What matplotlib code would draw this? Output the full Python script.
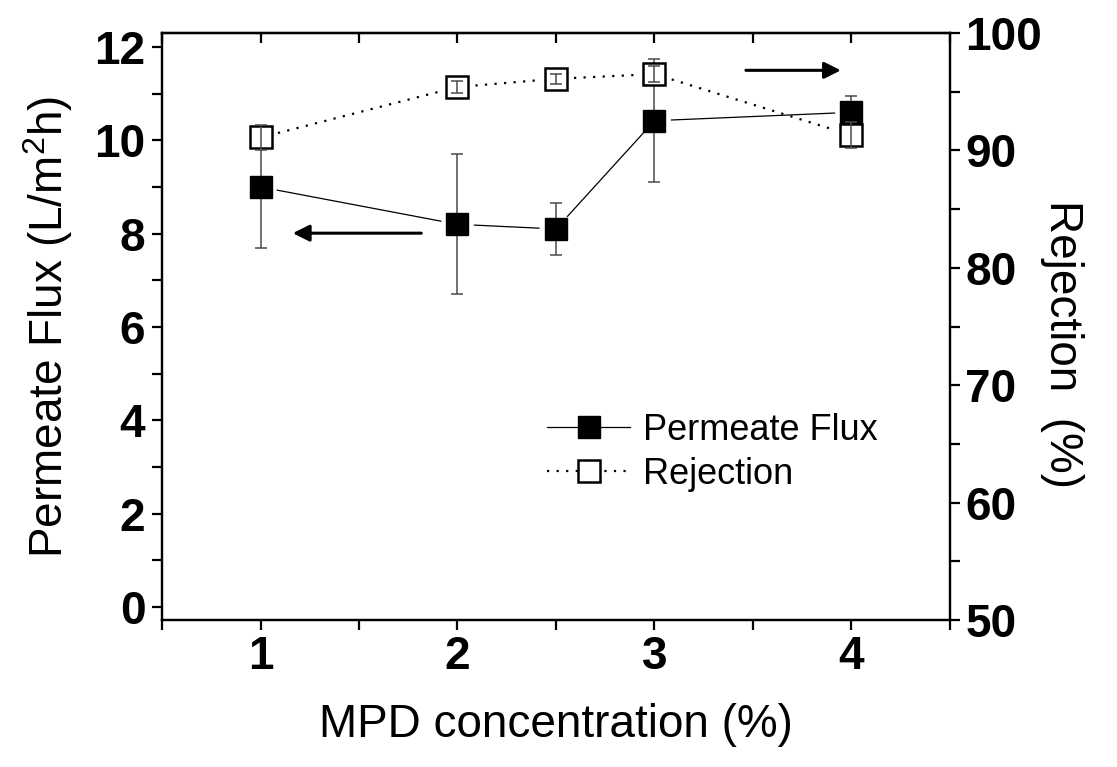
import numpy as np
import matplotlib
matplotlib.use("Agg")
import matplotlib.pyplot as plt
from matplotlib.lines import Line2D

plt.rcParams['font.family'] = ['Liberation Sans', 'DejaVu Sans']
plt.rcParams['mathtext.fontset'] = 'custom'
plt.rcParams['mathtext.rm'] = 'Liberation Sans'
plt.rcParams['mathtext.it'] = 'Liberation Sans:italic'

# data
mpd = [1, 2, 2.5, 3, 4]
flux = [9.0, 8.2, 8.1, 10.42, 10.6]
flux_err = [1.3, 1.5, 0.55, 1.32, 0.36]
rejection = [91.1, 95.4, 96.1, 96.5, 91.3]
rejection_err = [1.1, 0.5, 0.43, 0.67, 1.1]

fig = plt.figure(figsize=(11.17, 7.67), dpi=100)
ax = fig.add_axes([162 / 1117, 147 / 767, 788 / 1117, 587 / 767])
ax.set_xlim(0.5, 4.5)
ax.set_ylim(-0.28, 12.3)
ax2 = ax.twinx()
ax2.set_ylim(50, 100)


def gapped(axis, x, y, gap_px, **kw):
    # draw connecting segments that stop short of the markers (Origin style)
    pts = axis.transData.transform(np.column_stack([x, y]))
    inv = axis.transData.inverted()
    for p, q in zip(pts[:-1], pts[1:]):
        d = q - p
        u = d / np.hypot(*d)
        a, b = inv.transform([p + u * gap_px, q - u * gap_px])
        axis.plot([a[0], b[0]], [a[1], b[1]], **kw)


gapped(ax, mpd, flux, 17, color='black', lw=0.9, zorder=2)
ax.errorbar(mpd, flux, yerr=flux_err, fmt='none', ecolor='#4a4a4a',
            elinewidth=1.1, capsize=4.5, capthick=1.1, zorder=3)
ax.plot(mpd, flux, ls='none', marker='s', ms=16, mfc='black', mec='black', zorder=4)

gapped(ax2, mpd, rejection, 18, color='black', lw=1.6, ls=(0, (1, 3.3)), zorder=2)
ax2.plot(mpd, rejection, ls='none', marker='s', ms=16, mfc='white', mec='black',
         mew=1.8, zorder=3)
ax2.errorbar(mpd, rejection, yerr=rejection_err, fmt='none', ecolor='#4a4a4a',
             elinewidth=1.1, capsize=4.5, capthick=1.1, zorder=4)

# arrows pointing to each axis
ax.annotate('', xy=(1.15, 8.01), xytext=(1.83, 8.01),
            arrowprops=dict(arrowstyle='-|>', lw=2.2, color='black', mutation_scale=25))
ax.annotate('', xy=(3.96, 11.5), xytext=(3.45, 11.5),
            arrowprops=dict(arrowstyle='-|>', lw=2.2, color='black', mutation_scale=25))

# ticks
ax.set_xticks([1, 2, 3, 4])
ax.set_xticks([0.5, 1.5, 2.5, 3.5, 4.5], minor=True)
ax.set_yticks([0, 2, 4, 6, 8, 10, 12])
ax.set_yticks([1, 3, 5, 7, 9, 11], minor=True)
ax2.set_yticks([50, 60, 70, 80, 90, 100])
ax2.set_yticks([55, 65, 75, 85, 95], minor=True)

for a in (ax, ax2):
    a.tick_params(which='both', direction='out', length=7, width=1.6, labelsize=33)
    for s in a.spines.values():
        s.set_linewidth(1.6)
ax.tick_params(axis='x', pad=4)
ax.tick_params(axis='y', pad=5)
ax2.tick_params(axis='y', pad=4)
plt.setp(ax.get_xticklabels() + ax.get_yticklabels() + ax2.get_yticklabels(),
         fontweight='bold')

top = ax.secondary_xaxis('top')
top.set_xticks([1, 2, 3, 4])
top.set_xticks([0.5, 1.5, 2.5, 3.5, 4.5], minor=True)
top.tick_params(which='both', direction='in', length=7, width=1.6, labeltop=False)
top.spines['top'].set_linewidth(1.6)

ax.set_xlabel('MPD concentration (%)', fontsize=33, labelpad=17)
ax.set_ylabel('Permeate Flux (L/m$^2$h)', fontsize=33, labelpad=14)
ax2.set_ylabel('Rejection  (%)', fontsize=33, rotation=270, labelpad=30)
ax2.yaxis.label.set_y(0.47)

handles = [
    Line2D([], [], color='black', lw=0.9, marker='s', ms=16, mfc='black', mec='black'),
    Line2D([], [], color='black', lw=1.6, ls=(0, (1, 3.3)), marker='s', ms=16,
           mfc='white', mec='black', mew=1.8),
]
fig.legend(handles, ['Permeate Flux', 'Rejection'], loc='upper left',
           bbox_to_anchor=(547 / 1117, 1 - 413 / 767), frameon=False, fontsize=26,
           handlelength=2.3, handletextpad=0.35, labelspacing=0.25,
           borderpad=0, borderaxespad=0)

fig.savefig('out.png', dpi=100)
